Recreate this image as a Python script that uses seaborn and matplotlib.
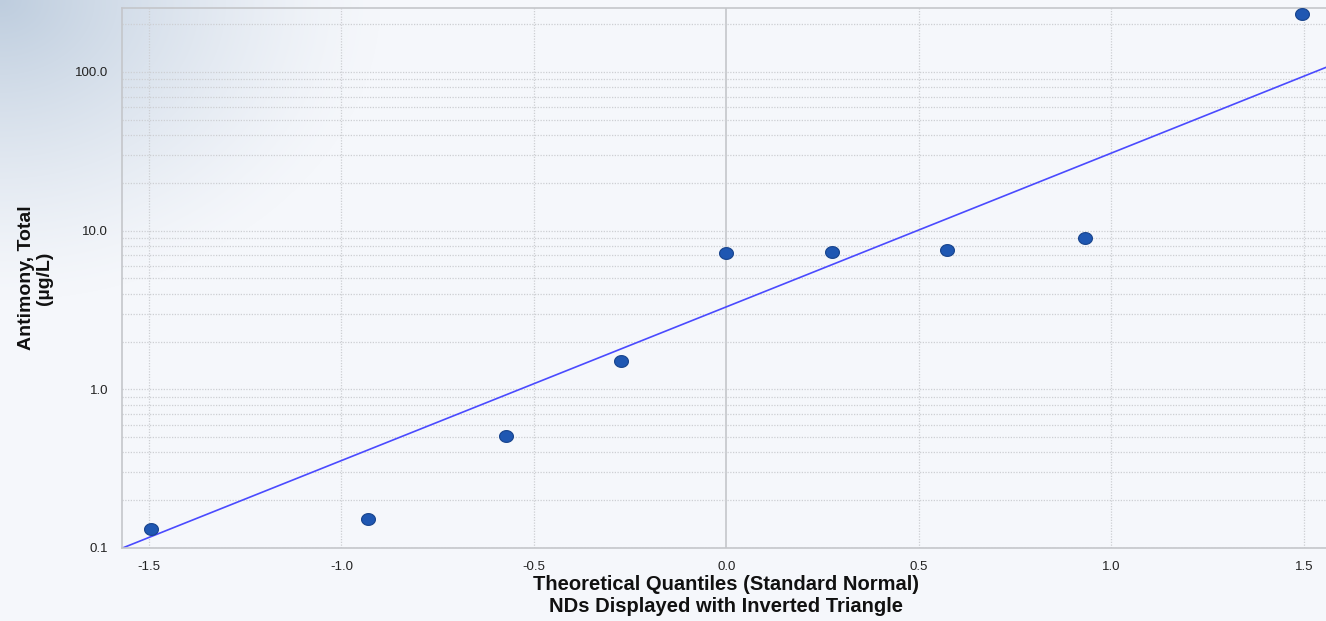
import numpy as np
import pandas as pd
import matplotlib
matplotlib.use("Agg")
import matplotlib.pyplot as plt
import seaborn as sns
from matplotlib.ticker import FixedLocator, FixedFormatter, NullFormatter

# ---- data ----
quantiles = [-1.494, -0.932, -0.572, -0.275, 0.0, 0.275, 0.572, 0.932, 1.494]
values = [0.132, 0.152, 0.508, 1.51, 7.22, 7.33, 7.55, 8.98, 232.0]
fit_log10_intercept = 0.520   # log10 of line value at x=0
fit_log10_slope = 0.969       # decades per unit quantile
x_ticks = [-1.5, -1.0, -0.5, 0.0, 0.5, 1.0, 1.5]
x_tick_labels = ["-1.5", "-1.0", "-0.5", "0.0", "0.5", "1.0", "1.5"]
y_ticks = [0.1, 1.0, 10.0, 100.0]
y_tick_labels = ["0.1", "1.0", "10.0", "100.0"]
x_label = "Theoretical Quantiles (Standard Normal)\nNDs Displayed with Inverted Triangle"
y_label = "Antimony, Total\n(µg/L)"

sns.set_theme(style="white")
plt.rcParams['font.family'] = ['Liberation Sans', 'DejaVu Sans']

W, H = 1326, 621
fig = plt.figure(figsize=(W / 100, H / 100), dpi=100)

# background gradient
bg = fig.add_axes([0, 0, 1, 1], zorder=-5)
yy, xx = np.mgrid[0:H, 0:W]
d = np.sqrt((xx / 380.0) ** 2 + (yy / 300.0) ** 2)
t = np.clip(1 - d, 0, 1) ** 1.3
base = np.array([245, 247, 251]) / 255.0
corner = np.array([190, 205, 222]) / 255.0
img = base[None, None, :] * (1 - t[..., None]) + corner[None, None, :] * t[..., None]
bg.imshow(img, aspect='auto', extent=[0, 1, 0, 1])
bg.set_axis_off()

ax = fig.add_axes([122 / W, (H - 548) / H, 1208.9 / W, 540 / H])
ax.set_facecolor('none')
ax.set_yscale('log')
ax.set_xlim(-1.57, 1.57)
ax.set_ylim(0.1, 253)

grid_c = '#cdcfd3'
for xv in x_ticks:
    if xv == 0.0:
        ax.axvline(xv, color='#c4c6ca', lw=1.2, ls='-', zorder=0)
    else:
        ax.axvline(xv, color=grid_c, lw=0.9, ls=(0, (1, 1.2)), zorder=0)
minor_vals = []
for dec in [0.1, 1, 10, 100]:
    for m in range(1, 10):
        v = dec * m
        if 0.1 <= v <= 253:
            minor_vals.append(v)
for v in minor_vals:
    ax.axhline(v, color=grid_c, lw=0.9, ls=(0, (1, 1.2)), zorder=0)

# fit line
line_x = np.linspace(-1.6, 1.6, 50)
line_y = 10 ** (fit_log10_intercept + fit_log10_slope * line_x)
df_line = pd.DataFrame({"x": line_x, "y": line_y})
sns.lineplot(data=df_line, x="x", y="y", ax=ax, color='#4a4aff', lw=1.2, zorder=2)

# points (slightly wide ellipse markers)
th = np.linspace(0, 2 * np.pi, 40)
ellipse = np.column_stack([np.cos(th), 0.85 * np.sin(th)])
df = pd.DataFrame({"q": quantiles, "v": values})
sns.scatterplot(data=df, x="q", y="v", ax=ax, s=100, marker=ellipse, color='#1f57b2',
                edgecolor='#17438c', linewidth=0.8, zorder=3)

ax.xaxis.set_major_locator(FixedLocator(x_ticks))
ax.xaxis.set_major_formatter(FixedFormatter(x_tick_labels))
ax.yaxis.set_major_locator(FixedLocator(y_ticks))
ax.yaxis.set_major_formatter(FixedFormatter(y_tick_labels))
ax.yaxis.set_minor_locator(FixedLocator(minor_vals))
ax.yaxis.set_minor_formatter(NullFormatter())
ax.tick_params(axis='both', which='major', labelsize=9.5, labelcolor='#222222',
               colors='#cdcfd3', length=8, width=0.8)
ax.tick_params(axis='y', which='minor', colors='#cdcfd3', length=8, width=0.8)
ax.tick_params(axis='x', which='major', length=4, pad=5)
ax.tick_params(axis='y', which='major', pad=2)

for s in ['left', 'bottom', 'top']:
    ax.spines[s].set_color('#c4c6ca')
    ax.spines[s].set_linewidth(1.2)
ax.spines['right'].set_visible(False)

ax.set_xlabel(x_label, fontsize=14.5, fontweight='bold', color='#111111', labelpad=2, linespacing=1.2)
ax.set_ylabel(y_label, fontsize=14, fontweight='bold', color='#111111', labelpad=16, linespacing=1.05)

fig.savefig("out.png", dpi=100)
